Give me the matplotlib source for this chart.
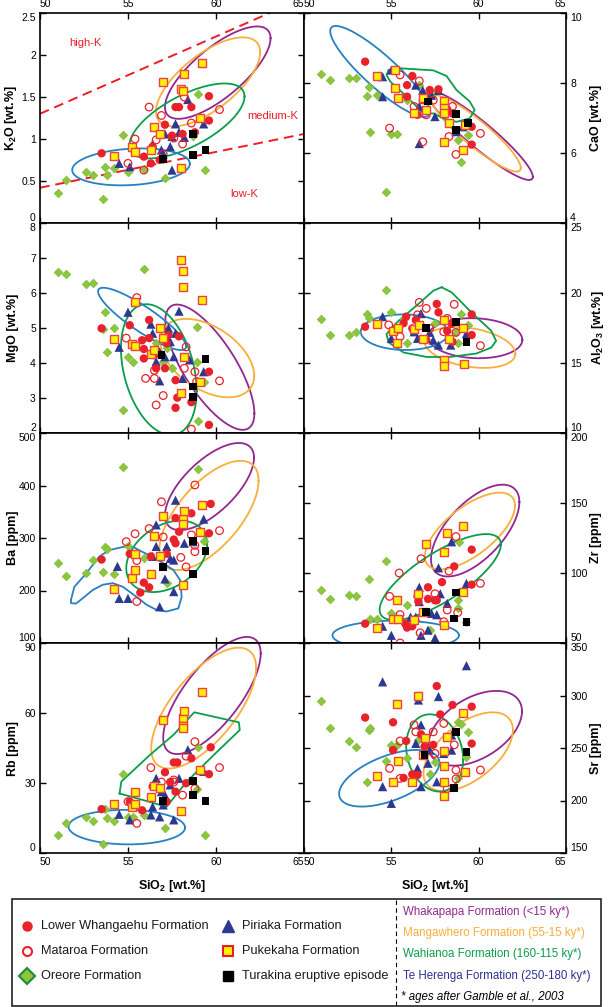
import matplotlib
matplotlib.use('Agg')
import matplotlib.pyplot as plt
import numpy as np

plt.rcParams['font.family'] = 'Liberation Sans'
plt.rcParams['mathtext.fontset'] = 'custom'
plt.rcParams['mathtext.rm'] = 'Liberation Sans:bold'
plt.rcParams['mathtext.default'] = 'rm'

# ---------------- sample data (SiO2, oxide / trace element) ----------------
k2o = {
    'Lower Whangaehu': [(53.5, 0.83), (55.9, 0.79), (56.3, 0.71), (56.8, 0.75), (57.1, 1.17), (57.7, 1.38), (57.9, 1.38),
                        (58.6, 1.38), (59.6, 1.51), (59.6, 1.22), (58.8, 1.08), (58.1, 1.06), (56.4, 0.91), (57.5, 1.04)],
    'Mataroa': [(55.0, 0.71), (55.4, 1.0), (56.2, 1.38), (56.9, 1.28), (58.1, 0.94), (58.6, 1.19), (58.2, 1.50),
                (60.2, 1.35), (56.6, 0.99), (57.6, 1.01), (55.9, 0.63), (57.0, 0.82)],
    'Oreore': [(51.0, 0.36), (51.5, 0.51), (52.6, 0.61), (53.0, 0.57), (53.7, 0.67), (53.8, 0.57), (53.6, 0.28), (54.7, 1.05),
               (55.0, 0.61), (55.9, 0.64), (57.1, 0.54), (59.0, 1.53), (59.4, 0.63), (58.7, 1.04), (54.2, 0.65)],
    'Piriaka': [(54.5, 0.71), (55.1, 0.67), (56.4, 0.94), (56.9, 0.87), (57.4, 0.91), (57.5, 1.03), (57.7, 1.18), (58.2, 1.02),
                (58.4, 1.47), (59.3, 1.18), (57.5, 0.63), (57.1, 1.06), (57.9, 1.08), (57.0, 0.82)],
    'Pukekaha': [(54.2, 0.80), (55.2, 0.91), (55.4, 0.85), (56.3, 0.87), (56.5, 1.14), (56.8, 1.06), (57.0, 1.68), (58.2, 1.77),
                 (58.0, 1.60), (58.1, 1.57), (59.2, 1.90), (59.1, 1.25), (58.0, 0.65)],
    'Turakina': [(57.0, 0.76), (58.7, 1.06), (58.7, 0.81), (59.4, 0.87)],
}
cao = {
    'Lower Whangaehu': [(53.5, 8.61), (56.2, 8.20), (55.9, 7.94), (55.9, 7.61), (56.5, 7.09), (57.7, 7.82), (58.2, 7.25),
                        (58.5, 7.13), (59.6, 6.75), (59.6, 6.24), (57.2, 7.80), (56.8, 7.51)],
    'Mataroa': [(55.5, 8.23), (56.6, 8.06), (57.0, 7.09), (54.9, 6.71), (56.8, 6.32), (58.3, 6.47), (58.7, 5.96),
                (60.1, 6.56), (58.5, 7.33), (57.4, 7.51), (56.3, 7.33)],
    'Oreore': [(51.0, 8.25), (51.5, 8.09), (52.6, 8.13), (53.0, 8.13), (53.7, 7.89), (53.6, 7.63), (54.2, 7.66), (53.8, 6.61),
               (55.0, 6.54), (55.3, 6.54), (55.9, 7.51), (56.6, 7.94), (54.7, 4.89), (58.8, 6.37), (59.4, 6.51), (59.0, 5.75),
               (57.4, 7.70)],
    'Piriaka': [(55.0, 8.37), (54.5, 8.18), (54.5, 7.61), (56.6, 6.27), (56.4, 7.94), (56.8, 7.79), (57.3, 7.65), (57.7, 7.79),
                (56.6, 7.33), (57.5, 7.04), (59.1, 6.75), (58.7, 6.61)],
    'Pukekaha': [(54.2, 8.20), (55.2, 8.37), (55.2, 7.86), (55.4, 7.58), (56.3, 7.13), (57.0, 7.23), (58.0, 7.50), (58.0, 7.30),
                 (58.0, 7.15), (58.3, 6.85), (58.0, 6.32), (59.1, 6.09), (59.2, 6.80), (56.8, 7.56)],
    'Turakina': [(57.1, 7.47), (58.7, 7.12), (59.4, 6.85), (58.7, 6.65)],
}
mgo = {
    'Lower Whangaehu': [(53.5, 4.99), (55.1, 5.08), (56.2, 5.23), (55.8, 4.65), (55.9, 4.40), (55.9, 4.13), (56.5, 4.22),
                        (56.6, 3.85), (57.1, 3.85), (57.2, 4.56), (57.3, 4.80), (57.7, 3.51), (57.7, 2.72), (57.8, 3.01),
                        (58.6, 2.88), (59.6, 3.75), (59.6, 2.23), (57.9, 4.76), (56.2, 4.71)],
    'Mataroa': [(55.5, 5.87), (54.9, 4.71), (55.3, 4.53), (56.0, 3.56), (56.5, 3.56), (57.0, 3.07), (56.6, 2.80), (58.3, 4.46),
                (58.8, 3.75), (58.9, 3.47), (60.2, 3.49), (58.6, 2.11), (56.5, 3.79), (58.2, 3.85)],
    'Oreore': [(51.0, 6.61), (51.5, 6.53), (52.6, 6.25), (53.0, 6.30), (53.7, 5.46), (53.6, 4.97), (54.2, 4.99), (53.8, 4.31),
               (55.0, 4.16), (55.3, 4.04), (55.9, 6.68), (54.7, 2.67), (56.6, 4.56), (57.0, 4.04), (57.5, 3.85), (58.9, 5.04),
               (58.9, 4.04), (59.3, 3.47), (59.0, 2.34), (57.2, 4.42)],
    'Piriaka': [(54.5, 4.45), (55.0, 5.45), (56.3, 5.11), (56.4, 4.85), (56.6, 4.04), (56.8, 3.49), (57.3, 4.99), (57.4, 4.61),
                (57.7, 4.85), (57.1, 4.18), (57.6, 4.18), (57.9, 5.48), (58.1, 3.56), (58.5, 4.09), (59.3, 3.75), (56.8, 4.32)],
    'Pukekaha': [(54.2, 4.68), (55.2, 4.53), (55.4, 5.73), (55.4, 4.49), (56.3, 4.25), (56.5, 4.37), (56.8, 5.01), (57.0, 4.71),
                 (58.0, 6.94), (58.1, 6.64), (58.1, 6.17), (59.2, 5.79), (58.2, 4.18), (59.1, 3.45), (58.0, 3.13)],
    'Turakina': [(56.9, 4.22), (58.7, 3.33), (58.7, 3.04), (59.4, 4.11)],
}
al2o3 = {
    'Lower Whangaehu': [(53.5, 17.59), (55.85, 18.31), (55.7, 17.84), (56.4, 18.07), (57.6, 19.22), (57.7, 18.62),
                        (58.45, 17.79), (59.6, 18.47), (59.6, 17.0), (56.2, 17.47), (57.0, 16.65), (58.5, 16.52),
                        (58.2, 17.29), (56.6, 17.71)],
    'Mataroa': [(56.6, 19.33), (57.0, 18.9), (58.6, 19.19), (56.5, 18.44), (54.85, 17.72), (55.5, 16.88), (58.0, 17.23),
                (58.7, 17.19), (60.1, 16.24), (58.2, 18.19), (57.2, 17.47)],
    'Oreore': [(51.0, 18.12), (51.5, 17.0), (52.6, 17.0), (53.0, 17.23), (53.6, 18.53), (53.7, 18.25), (54.7, 20.2),
               (55.0, 18.62), (55.9, 16.4), (57.5, 17.84), (58.7, 17.19), (58.8, 16.4), (59.0, 18.5), (59.4, 17.72),
               (55.7, 18.16)],
    'Piriaka': [(54.5, 18.31), (55.0, 16.76), (56.3, 17.23), (56.7, 18.53), (56.8, 17.7), (57.4, 16.64), (57.7, 16.28),
                (58.4, 16.28), (59.3, 17.1), (56.5, 16.76), (57.2, 17.19)],
    'Pukekaha': [(54.2, 17.76), (55.1, 17.29), (55.4, 17.53), (55.3, 16.40), (56.3, 17.43), (56.6, 17.71), (56.8, 16.71),
                 (58.0, 18.07), (58.3, 16.71), (58.0, 15.22), (58.0, 14.82), (59.15, 14.91), (59.1, 17.47)],
    'Turakina': [(57.0, 17.47), (58.7, 17.9), (59.3, 16.48)],
}
ba = {
    'Lower Whangaehu': [(53.5, 259), (55.1, 270), (55.7, 196), (55.9, 215), (56.2, 206), (57.2, 270), (57.6, 297),
                        (57.7, 290), (57.9, 312), (58.2, 351), (58.6, 347), (59.7, 365), (59.6, 309), (57.7, 338),
                        (56.3, 265)],
    'Mataroa': [(54.9, 293), (55.4, 308), (55.5, 257), (55.5, 179), (56.2, 318), (56.9, 369), (57.0, 302), (58.0, 263),
                (58.3, 245), (58.8, 401), (58.8, 286), (58.8, 274), (60.2, 314), (58.6, 306)],
    'Oreore': [(51.0, 253), (51.5, 227), (52.6, 234), (53.0, 259), (53.6, 235), (53.7, 282), (53.8, 279), (54.2, 231),
               (55.0, 284), (55.9, 261), (54.7, 435), (59.0, 432), (59.3, 295), (57.2, 214)],
    'Piriaka': [(54.4, 246), (54.5, 185), (55.0, 185), (56.6, 325), (56.8, 169), (56.4, 265), (56.6, 284), (57.2, 284),
                (57.1, 222), (57.4, 261), (57.6, 198), (57.7, 372), (58.2, 290), (58.7, 293), (59.3, 336), (57.6, 258)],
    'Pukekaha': [(54.2, 202), (55.2, 223), (55.4, 239), (55.4, 270), (56.3, 232), (56.5, 304), (56.8, 266), (57.0, 342),
                 (58.1, 336), (58.1, 326), (58.1, 211), (58.2, 351), (59.2, 363), (59.1, 311)],
    'Turakina': [(57.0, 245), (58.7, 295), (58.7, 232), (59.4, 275)],
}
zr = {
    'Lower Whangaehu': [(53.5, 63.8), (55.85, 62.9), (56.2, 62), (56.55, 79.6), (57.1, 89.8), (57.1, 81.5), (57.5, 80.5),
                        (57.9, 93.5), (58.6, 104.7), (59.6, 116.7), (59.6, 91.7), (56.5, 83.3), (57.6, 80.5),
                        (55.8, 63.8), (55.9, 61)],
    'Mataroa': [(55.45, 100), (54.9, 83.3), (56.7, 110.2), (58.3, 101.4), (58.7, 126), (60.1, 92.6), (58.2, 73.6),
                (55.5, 70.3), (56.65, 57.3), (58.0, 65.2), (58.8, 71.7), (57.5, 85.2), (55.5, 50)],
    'Oreore': [(51.0, 88), (51.5, 81.5), (52.6, 84.2), (53.0, 83.3), (53.7, 95.4), (54.7, 108.4), (53.8, 67.3), (54.2, 67.3),
               (55.9, 76.8), (55.0, 71.2), (58.9, 122.1), (58.8, 80.5), (58.8, 74.9), (59.3, 65.2), (57.2, 59.2)],
    'Piriaka': [(54.5, 62), (55.0, 55.5), (56.1, 68.5), (56.6, 89.8), (56.4, 68.5), (56.6, 79.6), (57.1, 59.2), (57.3, 71.2),
                (57.6, 70.2), (57.7, 103.7), (57.8, 85.2), (58.2, 78.3), (58.45, 122.3), (59.3, 92.6), (56.7, 55.5),
                (57.5, 53.6)],
    'Pukekaha': [(54.2, 61), (55.3, 80.5), (55.1, 67.5), (55.4, 67.5), (56.3, 66.6), (56.5, 84.7), (56.8, 72.2), (57.0, 120.4),
                 (58.0, 114.9), (58.0, 62.9), (58.2, 128.4), (59.1, 133.5), (59.1, 86.1)],
    'Turakina': [(57.0, 72.2), (58.7, 86.1), (58.6, 67.5), (59.3, 65)],
}
rb = {
    'Lower Whangaehu': [(53.5, 18.8), (55.1, 22), (57.1, 34.6), (57.6, 38.8), (57.8, 38.8), (58.6, 40.6), (59.6, 33.8),
                        (59.7, 45.3), (56.4, 28.5), (57.4, 30.4), (57.7, 26.3), (58.3, 29.9), (55.8, 18.3), (57.2, 22)],
    'Mataroa': [(55.0, 22), (55.5, 12.7), (56.3, 36.6), (56.9, 30.4), (57.6, 30.4), (58.1, 24.8), (58.3, 41.5), (58.8, 47.7),
                (60.2, 36.6), (58.8, 27.6), (57.6, 31.3)],
    'Oreore': [(51.0, 7.7), (51.5, 12.7), (52.6, 15.5), (53.0, 13.9), (53.6, 3.7), (53.7, 18.8), (53.8, 14.8), (54.2, 13.9),
               (54.7, 33.7), (55.0, 15.5), (55.3, 15.5), (55.9, 16.4), (57.1, 10.8), (59.0, 45.6), (59.4, 7.7), (58.9, 27.4)],
    'Piriaka': [(54.5, 16.6), (55.1, 14.2), (56.3, 16.3), (56.8, 15.5), (56.4, 19.8), (56.6, 32), (56.9, 26.3), (57.1, 24.8),
                (57.4, 29.2), (57.6, 14.2), (57.9, 32), (58.4, 44.2), (59.3, 35), (57.0, 20.6)],
    'Pukekaha': [(54.2, 20.9), (55.2, 19.8), (55.4, 26), (55.4, 20.9), (56.3, 23.9), (56.5, 28.9), (56.8, 27.7), (57.0, 57),
                 (58.1, 58), (58.1, 54.6), (58.1, 53.5), (58.2, 60.8), (59.2, 68.8), (59.1, 35.6), (58.0, 18)],
    'Turakina': [(57.0, 22.3), (58.7, 24.9), (58.7, 30.8), (59.4, 22.3)],
}
sr = {
    'Lower Whangaehu': [(53.5, 279), (55.1, 274.5), (55.85, 256.7), (55.1, 248), (57.6, 309), (57.8, 282), (58.5, 291),
                        (59.6, 289.4), (59.6, 254.2), (55.7, 221.5), (56.2, 225), (56.9, 251.4), (57.4, 253),
                        (56.7, 263), (56.5, 224.3)],
    'Mataroa': [(54.9, 230.6), (55.5, 256.7), (56.3, 272), (56.4, 265.4), (57.4, 265.4), (58.0, 273.4), (58.6, 253),
                (58.7, 229), (58.7, 220.6), (58.2, 211.3), (60.1, 229), (55.5, 221), (57.5, 244.8)],
    'Oreore': [(51.0, 294.8), (51.5, 268.7), (52.6, 256.7), (53.0, 250.6), (53.7, 267.2), (53.8, 269.1), (53.6, 217.8),
               (54.2, 223.4), (54.7, 237.4), (55.0, 253), (55.3, 253), (55.9, 240.2), (56.55, 257.6), (57.2, 225),
               (58.8, 274.5), (59.0, 272.5), (59.4, 265.4), (59.3, 241.8), (58.8, 221), (57.5, 237)],
    'Piriaka': [(54.5, 313), (55.0, 197.3), (54.5, 213.2), (56.55, 295.7), (56.4, 254.4), (56.7, 272), (56.5, 230.6),
                (56.7, 213.2), (57.1, 235.5), (57.7, 299), (57.6, 217.8), (58.0, 244.8), (58.45, 248), (58.45, 262.4),
                (59.3, 328.4), (57.2, 248)],
    'Pukekaha': [(54.2, 223.4), (55.1, 217.8), (55.3, 292), (55.4, 237.4), (56.2, 217.8), (56.5, 299.8), (56.9, 259.2),
                 (56.8, 243.4), (58.0, 247.2), (58.0, 233.2), (58.0, 217.8), (58.0, 204.6), (58.2, 260.5), (59.1, 283),
                 (59.2, 227)],
    'Turakina': [(56.9, 243.4), (58.7, 265), (59.3, 246.5), (58.6, 211.6)],
}

# ---------------- formation envelopes ----------------
# ellipse: (centre SiO2, centre y, half-range SiO2, half-range y, tilt phase) ; otherwise outline vertices
k2o_env = {
    'Whakapapa': (60.1, 1.79, 3.0, 0.55, 0.73),
    'Mangawhero': (59.55, 1.68, 2.96, 0.53, 0.84),
    'Wahianoa': (58.35, 1.215, 3.27, 0.446, 0.86),
    'Te Herenga': (55.17, 0.668, 3.34, 0.22, 1.4),
}
cao_env = {
    'Whakapapa': (60.1, 6.50, 3.0, 1.27, 2.76),
    'Mangawhero': (59.85, 6.56, 2.56, 1.09, 2.70),
    'Wahianoa': [(54.85, 8.37), (55.51, 8.42), (57.41, 8.36), (58.16, 8.20), (58.73, 7.80), (59.49, 7.47), (59.77, 7.23),
                 (59.49, 6.99), (58.73, 6.89), (57.97, 6.99), (57.41, 7.13), (56.84, 7.13), (55.89, 7.61), (54.94, 8.04),
                 (54.72, 8.23)],
    'Te Herenga': (54.35, 8.33, 2.85, 1.30, 2.66),
}
mgo_env = {
    'Whakapapa': (59.65, 3.88, 2.53, 1.79, 2.4),
    'Mangawhero': (59.5, 4.14, 2.67, 1.12, 2.04),
    'Wahianoa': (56.75, 3.81, 2.15, 1.87, 1.9),
    'Te Herenga': (55.8, 5.26, 2.5, 0.89, 2.65),
}
al2o3_env = {
    'Whakapapa': (59.8, 16.77, 2.7, 1.43, 1.65),
    'Mangawhero': (59.5, 16.11, 2.6, 1.46, 1.88),
    'Wahianoa': [(57.88, 20.41), (58.45, 20.05), (59.68, 18.5), (60.72, 17.3), (61.0, 16.58), (60.72, 16.1), (59.87, 15.68),
                 (58.35, 15.43), (57.03, 15.43), (55.7, 15.75), (54.85, 16.47), (54.72, 17.06), (55.32, 17.9),
                 (56.65, 19.33), (57.41, 20.17)],
    'Te Herenga': (55.75, 17.2, 2.5, 1.27, 1.6),
}
ba_env = {
    'Whakapapa': (59.63, 398, 2.53, 83, 0.85),
    'Mangawhero': (59.6, 343, 2.82, 104, 0.88),
    'Wahianoa': (57.2, 265, 2.3, 68, 1.23),
    'Te Herenga': [(51.76, 182), (51.95, 207), (52.61, 232), (53.38, 265), (53.95, 277), (54.71, 283), (55.29, 283),
                   (55.67, 276), (56.34, 265), (57.0, 252), (57.58, 239), (57.96, 220), (58.05, 188), (57.86, 166),
                   (57.19, 160), (56.62, 163), (56.05, 173), (55.48, 188), (54.71, 207), (54.14, 214), (53.57, 211),
                   (53.0, 201), (52.42, 185), (52.04, 175), (51.76, 176)],
}
zr_env = {
    'Whakapapa': (59.8, 130.3, 2.53, 32.8, 0.9),
    'Mangawhero': (59.5, 130.0, 2.58, 27.4, 0.85),
    'Wahianoa': (57.8, 97.1, 3.47, 30.7, 0.71),
    'Te Herenga': (55.25, 55.5, 3.62, 10.5, 1.57),
}
rb_env = {
    'Whakapapa': (59.77, 67.5, 2.77, 25.1, 0.77),
    'Mangawhero': (59.3, 62.1, 2.98, 25.9, 0.84),
    'Wahianoa': [(54.52, 25.5), (54.62, 30.6), (56.24, 42.0), (57.58, 50.6), (58.76, 60.3), (61.3, 56.0), (61.35, 52.7),
                 (59.87, 42.0), (58.34, 30.6), (57.19, 19.8), (55.86, 22.7)],
    'Te Herenga': (54.93, 11.1, 3.31, 7.4, 1.6),
}
sr_env = {
    'Whakapapa': (59.8, 268.8, 2.68, 35.6, 1.1),
    'Mangawhero': (59.4, 246.5, 2.56, 37.5, 0.99),
    'Wahianoa': (57.48, 245.3, 1.63, 36.8, 1.74),
    'Te Herenga': (54.88, 221.2, 2.87, 27.0, 0.99),
}

# K2O series boundaries and labels
high_k_line = [(50, 1.30), (65, 2.68)]
low_k_line = [(50, 0.42), (65, 1.06)]
series_labels = [('high-K', 52.6, 2.14), ('medium-K', 63.2, 1.27), ('low-K', 61.6, 0.34)]

sio2_ticks = [50, 55, 60, 65]

env_colors = {'Whakapapa': '#92278F', 'Mangawhero': '#F9AE3B', 'Wahianoa': '#0A9E4A', 'Te Herenga': '#2680C2'}
styles = {
    'Oreore': dict(marker='D', s=19, c='#8CC63F', edgecolors='#7DBA36', linewidths=0.5),
    'Piriaka': dict(marker='^', s=44, c='#2B3990', edgecolors='none'),
    'Lower Whangaehu': dict(marker='o', s=36, c='#E8212B', edgecolors='none'),
    'Mataroa': dict(marker='o', s=30, facecolors='none', edgecolors='#E8212B', linewidths=0.9),
    'Pukekaha': dict(marker='s', s=34, c='#FFF200', edgecolors='#EE4048', linewidths=1.0),
    'Turakina': dict(marker='s', s=32, c='black', edgecolors='none'),
}

# panel: (data, envelopes, y ticks, tick labels, ylabel, column, row)
panels = [
    (k2o, k2o_env, [0, 0.5, 1, 1.5, 2, 2.5], ['0', '0.5', '1', '1.5', '2', '2.5'], 'K$_2$O [wt.%]', 0, 0),
    (cao, cao_env, [4, 6, 8, 10], ['4', '6', '8', '10'], 'CaO [wt.%]', 1, 0),
    (mgo, mgo_env, [2, 3, 4, 5, 6, 7, 8], ['2', '3', '4', '5', '6', '7', '8'], 'MgO [wt.%]', 0, 1),
    (al2o3, al2o3_env, [10, 15, 20, 25], ['10', '15', '20', '25'], 'Al$_2$O$_3$ [wt.%]', 1, 1),
    (ba, ba_env, [100, 200, 300, 400, 500], ['100', '200', '300', '400', '500'], 'Ba [ppm]', 0, 2),
    (zr, zr_env, [50, 100, 150, 200], ['50', '100', '150', '200'], 'Zr [ppm]', 1, 2),
    (rb, rb_env, [0, 30, 60, 90], ['0', '30', '60', '90'], 'Rb [ppm]', 0, 3),
    (sr, sr_env, [150, 200, 250, 300, 350], ['150', '200', '250', '300', '350'], 'Sr [ppm]', 1, 3),
]

W, H = 608, 1007
fig = plt.figure(figsize=(W / 100, H / 100), dpi=100)

col_x = [(40, 264), (304, 262)]
row_top = [13, 223, 433, 643]
row_h = 210

t = np.linspace(0, 2 * np.pi, 181)

for data, env, yt, ytl, ylab, col, row in panels:
    x0, w = col_x[col]
    ax = fig.add_axes([x0 / W, (H - row_top[row] - row_h) / H, w / W, row_h / H])
    ax.set_xlim(50, 65)
    ax.set_ylim(yt[0], yt[-1])

    for name, e in env.items():
        if isinstance(e, tuple):
            cx, cy, rx, ry, ph = e
            ex = cx + rx * np.cos(t)
            ey = cy + ry * np.cos(t - ph)
        else:
            ex = [p[0] for p in e] + [e[0][0]]
            ey = [p[1] for p in e] + [e[0][1]]
        ax.plot(ex, ey, color=env_colors[name], lw=1.3, zorder=2, clip_on=False)

    for name, st in styles.items():
        pts = np.array(data[name])
        ax.scatter(pts[:, 0], pts[:, 1], zorder=3, **st)

    if ylab.startswith('K'):
        for line in (high_k_line, low_k_line):
            ax.plot([p[0] for p in line], [p[1] for p in line], color='#ED1C24', lw=1.4,
                    dashes=(5, 3), zorder=1)
        for txt, tx, ty in series_labels:
            ax.text(tx, ty, txt, color='#ED1C24', fontsize=8, ha='center', va='center')

    ax.set_xticks(sio2_ticks)
    ax.set_xticklabels([str(v) for v in sio2_ticks])
    ax.set_yticks(yt)
    ax.set_yticklabels(ytl)
    ax.tick_params(direction='in', length=4, width=1, top=True, right=True, labelsize=7.5, pad=3,
                   labelleft=(col == 0), labelright=(col == 1),
                   labeltop=(row == 0), labelbottom=(row == 3))
    for sp in ax.spines.values():
        sp.set_linewidth(1.2)

    # nudge end labels inside the frame
    xt = ax.xaxis.get_major_ticks()
    for lb in (xt[0].label1, xt[0].label2):
        lb.set_horizontalalignment('left')
    for lb in (xt[-1].label1, xt[-1].label2):
        lb.set_horizontalalignment('right')
    ytk = ax.yaxis.get_major_ticks()
    for lb in (ytk[0].label1, ytk[0].label2):
        lb.set_verticalalignment('bottom')
    for lb in (ytk[-1].label1, ytk[-1].label2):
        lb.set_verticalalignment('top')

    ax.set_ylabel(ylab, fontsize=9, fontweight='bold')
    if col == 0:
        ax.yaxis.set_label_coords(-0.08, 0.5)
    else:
        ax.yaxis.set_label_position('right')
        ax.yaxis.set_label_coords(1.09, 0.5)
    if row == 3:
        ax.set_xlabel('SiO$_2$ [wt.%]', fontsize=9, fontweight='bold')
        ax.xaxis.set_label_coords(0.5, -0.12)

# ---------------- legend box ----------------
lg = fig.add_axes([0, 0, 1, 1], zorder=-1)
lg.set_xlim(0, W)
lg.set_ylim(H, 0)
lg.axis('off')
lg.add_patch(plt.Rectangle((12, 899), 589, 107, fill=False, lw=1.2, ec='#222222'))
lg.plot([396, 396], [900, 1005], color='black', lw=0.8, dashes=(4, 3))

legend_left = [
    ('Lower Whangaehu Formation', 27, 926, dict(marker='o', ms=6.5, mfc='#E8212B', mec='#E8212B')),
    ('Mataroa Formation', 27, 951, dict(marker='o', ms=6.5, mfc='white', mec='#E8212B', mew=1.5)),
    ('Oreore Formation', 27, 976, dict(marker='D', ms=8, mfc='#8CC63F', mec='#1E8B3A', mew=1.5)),
    ('Piriaka Formation', 228, 926, dict(marker='^', ms=8, mfc='#2B3990', mec='#2B3990')),
    ('Pukekaha Formation', 228, 951, dict(marker='s', ms=7, mfc='#FFF200', mec='#ED1C24', mew=1.5)),
    ('Turakina eruptive episode', 228, 976, dict(marker='s', ms=7, mfc='black', mec='black')),
]
for txt, mx, my, mk in legend_left:
    lg.plot([mx], [my], ls='none', **mk)
    lg.text(mx + 14, my, txt, fontsize=9.2, va='center', ha='left', color='#1a1a1a')

legend_right = [
    ('Whakapapa Formation (<15 ky*)', 912, '#92278F'),
    ('Mangawhero Formation (55-15 ky*)', 933, '#F9AE3B'),
    ('Wahianoa Formation (160-115 ky*)', 954, '#0A9E4A'),
    ('Te Herenga Formation (250-180 ky*)', 976, '#2E3192'),
]
for txt, ty, c in legend_right:
    lg.text(403, ty, txt, fontsize=8.3, va='center', ha='left', color=c)
lg.text(401, 997, '* ages after Gamble et al., 2003', fontsize=8.3, va='center', ha='left', style='italic')

fig.savefig('out.png', dpi=100)
